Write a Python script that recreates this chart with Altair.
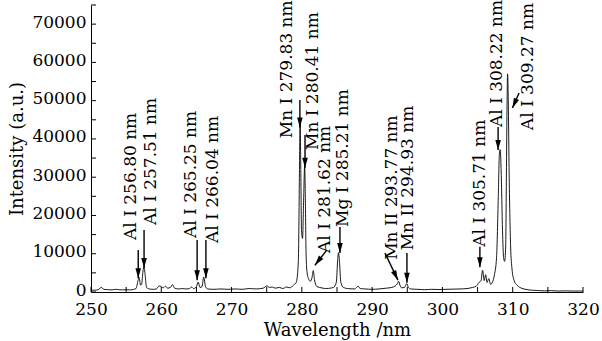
import math
import altair as alt
import pandas as pd

# ---- spectrum ----
wavelength = [250.0, 250.5, 251.0, 251.5, 251.8, 252.5, 253.0, 253.5, 254.0, 254.5, 255.0, 255.5,
              256.0, 256.4, 256.7, 256.85, 257.05, 257.2, 257.4, 257.55, 257.7, 257.9, 258.3, 258.8,
              259.3, 259.7, 260.0, 260.3, 260.6, 260.9, 261.3, 261.6, 261.9, 262.5, 263.0, 263.5,
              264.0, 264.3, 264.6, 265.0, 265.25, 265.5, 265.8, 266.04, 266.3, 266.6, 267.5, 268.5,
              269.5, 270.5, 271.5, 272.5, 273.5, 274.5, 275.0, 275.4, 275.8, 276.2, 276.8, 277.3,
              277.8, 278.3, 278.8, 279.2, 279.5, 279.65, 279.75, 279.85, 279.95, 280.1, 280.25, 280.4,
              280.5, 280.6, 280.75, 280.95, 281.2, 281.45, 281.62, 281.8, 282.1, 282.5, 283.0, 283.5,
              284.0, 284.5, 284.9, 285.1, 285.21, 285.35, 285.55, 285.9, 286.5, 287.5, 288.0, 288.3,
              289.0, 290.0, 291.0, 292.0, 292.8, 293.3, 293.6, 293.77, 293.95, 294.2, 294.6, 294.93,
              295.15, 295.5, 296.5, 297.5, 298.5, 299.5, 300.5, 301.5, 302.5, 303.5, 304.3, 304.8,
              305.2, 305.5, 305.71, 305.95, 306.15, 306.35, 306.6, 306.85, 307.1, 307.4, 307.7, 307.95,
              308.1, 308.22, 308.35, 308.55, 308.7, 308.85, 309.0, 309.1, 309.2, 309.27, 309.35, 309.5,
              309.7, 309.9, 310.2, 310.6, 311.0, 311.6, 312.5, 313.5, 314.5, 315.5, 316.5, 317.5,
              318.5, 319.5, 320.0]
intensity = [500, 450, 600, 1200, 700, 600, 550, 700, 600, 550, 600, 550,
             650, 900, 3000, 3800, 1800, 2000, 5500, 6600, 4500, 1200, 800, 700,
             800, 1600, 1400, 1100, 1500, 1000, 1200, 1900, 1000, 800, 900, 800,
             900, 1300, 900, 1400, 2600, 1200, 1400, 3900, 1400, 800, 700, 800,
             700, 800, 700, 900, 800, 1000, 1600, 1200, 1300, 1000, 1200, 900,
             1300, 1100, 1800, 2500, 8000, 30000, 44500, 32000, 16000, 14000, 24000, 33000,
             24000, 10000, 5000, 3500, 2800, 3800, 5600, 3200, 1500, 1200, 1000, 900,
             1000, 1200, 2500, 8500, 10300, 8000, 2500, 1200, 900, 800, 1500, 900,
             800, 700, 800, 1000, 1200, 1600, 2200, 2800, 1800, 1100, 1200, 2200,
             1200, 800, 700, 600, 700, 650, 700, 750, 800, 900, 1200, 1500,
             2500, 3000, 5700, 3000, 4500, 2500, 3500, 2000, 2500, 4500, 9000, 25000,
             36000, 37200, 32000, 16000, 9000, 8000, 12000, 30000, 50000, 57000, 52000, 30000,
             12000, 6000, 3000, 1800, 1200, 800, 500, 400, 300, 350, 250, 300,
             250, 250, 250]

# ---- annotations ----
labels = ["Al I 256.80 nm", "Al I 257.51 nm", "Al I 265.25 nm", "Al I 266.04 nm",
          "Mn I 279.83 nm", "Mn I 280.41 nm", "Al I 281.62 nm", "Mg I 285.21 nm",
          "Mn II 293.77 nm", "Mn II 294.93 nm", "Al I 305.71 nm", "Al I 308.22 nm",
          "Al I 309.27 nm"]
label_x = [255.75, 258.5, 264.25, 267.3, 277.9, 281.58, 283.3, 285.85, 292.82, 295.1,
           305.33, 307.75, 312.16]
label_y = [13600, 17500, 14100, 12800, 40200, 37100, 10200, 17000, 8400, 10900,
           11800, 43100, 42300]
arrow_x1 = [256.72, 257.55, 265.1, 266.35, 279.72, 280.45, 283.57, 285.42, 291.82, 294.95,
            305.33, 307.92, 310.9]
arrow_y1 = [11000, 16200, 13600, 13600, 50200, 41000, 11000, 17000, 10200, 10200,
            11800, 43100, 52000]
arrow_x2 = [256.72, 257.55, 265.1, 266.35, 279.72, 280.45, 281.86, 285.42, 293.67, 294.95,
            305.33, 307.92, 309.96]
arrow_y2 = [3600, 6300, 3100, 3600, 43000, 32500, 7000, 10200, 3100, 2400,
            6500, 37100, 48100]

x_ticks = list(range(250, 321, 5))
y_ticks = list(range(0, 75001, 5000))

W, H = 492, 287
XMIN, XMAX, YMIN, YMAX = 250, 320, 0, 75000
FONT = "DejaVu Serif"

spec = pd.DataFrame({"wl": wavelength, "I": intensity})
ann = pd.DataFrame({"label": labels, "lx": label_x, "ly": label_y,
                    "x1": arrow_x1, "y1": arrow_y1, "x2": arrow_x2, "y2": arrow_y2})
# arrow-head angle on screen (head shape points down at angle 0)
sx, sy = W / (XMAX - XMIN), H / (YMAX - YMIN)
angles = []
for a, b, c, d in zip(arrow_x1, arrow_y1, arrow_x2, arrow_y2):
    dx = (c - a) * sx
    dy = -(d - b) * sy
    ang = math.degrees(math.atan2(-dx, dy))
    angles.append(ang % 360)
ann["ang"] = angles

xs = alt.Scale(domain=[XMIN, XMAX], nice=False)
ys = alt.Scale(domain=[YMIN, YMAX], nice=False)

line = alt.Chart(spec).mark_line(color="black", strokeWidth=0.9, interpolate="monotone").encode(
    x=alt.X("wl:Q", scale=xs, title="Wavelength /nm",
            axis=alt.Axis(values=list(range(250, 321, 10)), format="d", labelFlush=False)),
    y=alt.Y("I:Q", scale=ys, title="Intensity (a.u.)",
            axis=alt.Axis(values=list(range(0, 70001, 10000)), format="d", labelFlush=False,
                          labelOffset=-2)),
)

xt = alt.Chart(pd.DataFrame({"t": x_ticks})).mark_rule(color="black", strokeWidth=1).encode(
    x=alt.X("t:Q", scale=xs), y=alt.value(H), y2=alt.value(H - 5))
yt = alt.Chart(pd.DataFrame({"t": y_ticks})).mark_rule(color="black", strokeWidth=1).encode(
    y=alt.Y("t:Q", scale=ys), x=alt.value(0), x2=alt.value(5))

shafts = alt.Chart(ann).mark_rule(color="black", strokeWidth=1.4).encode(
    x=alt.X("x1:Q", scale=xs), y=alt.Y("y1:Q", scale=ys),
    x2="x2:Q", y2="y2:Q")
heads = alt.Chart(ann).mark_point(
    shape="M0,0L-0.28,-1L0.28,-1Z", filled=True, color="black", opacity=1, size=400
).encode(x=alt.X("x2:Q", scale=xs), y=alt.Y("y2:Q", scale=ys), angle=alt.Angle("ang:Q", scale=None))

texts = alt.Chart(ann).mark_text(
    angle=270, align="left", baseline="middle", font=FONT, fontSize=17, color="black"
).encode(x=alt.X("lx:Q", scale=xs), y=alt.Y("ly:Q", scale=ys), text="label:N")

chart = alt.layer(line, xt, yt, shafts, heads, texts).properties(
    width=W, height=H,
    autosize=alt.AutoSizeParams(type="none"),
    padding={"left": 91, "top": 5, "right": 602 - 91 - W, "bottom": 341 - 5 - H},
).configure_view(stroke=None).configure_axis(
    grid=False, ticks=False, domainColor="black", domainWidth=1,
    labelFont=FONT, labelFontSize=17, labelColor="black",
    titleFont=FONT, titleFontSize=18, titleColor="black", titleFontWeight="normal",
).configure_axisX(labelPadding=9, titlePadding=4).configure_axisY(labelPadding=5, titlePadding=5)

chart.save("out.html", embed_options={"renderer": "svg", "actions": False})
